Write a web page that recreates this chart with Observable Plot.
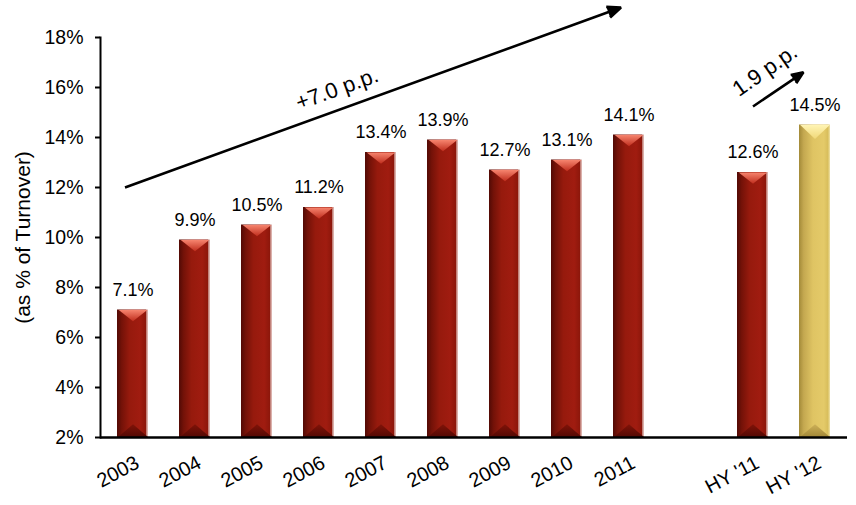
<!DOCTYPE html>
<html><head><meta charset="utf-8">
<script src="https://cdn.jsdelivr.net/npm/d3@7"></script>
<script src="https://cdn.jsdelivr.net/npm/@observablehq/plot@0.6"></script>
<style>
html,body{margin:0;padding:0;background:#fff;}
</style>
</head><body><div id="chart"></div>
<script>
// ---- data ----
const categories = ["2003","2004","2005","2006","2007","2008","2009","2010","2011","HY '11","HY '12"];
const values = [7.1, 9.9, 10.5, 11.2, 13.4, 13.9, 12.7, 13.1, 14.1, 12.6, 14.5];
const highlighted = ["HY '12"];
const xDomain = [...categories.slice(0, 9), " ", ...categories.slice(9)];
const yTicks = [2, 4, 6, 8, 10, 12, 14, 16, 18];
const yLabel = "(as % of Turnover)";

// trend annotations
const arrowFrom = ["2003", "HY '11"];
const arrowTo = ["2011", "HY '12"];
const arrowY1 = [12.0, 15.24];
const arrowY2 = [19.2, 16.92];
const annotationText = ["+7.0 p.p.", "1.9 p.p."];
const annotationX = ["2006", "HY '11"];
const annotationY = [15.94, 16.68];

// ---- tables ----
const rows = categories.map((c, i) => ({cat: c, value: values[i], hl: highlighted.includes(c)}));
const redRows = rows.filter(d => !d.hl);
const goldRows = rows.filter(d => d.hl);
const arrows = arrowFrom.map((f, i) => ({x1: f, x2: arrowTo[i], y1: arrowY1[i], y2: arrowY2[i]}));
const notes = annotationText.map((t, i) => ({text: t, x: annotationX[i], y: annotationY[i]}));
const base = yTicks[0];

function chevron(depth, up, widthFrac = 1) {
  return {
    draw(ctx, size) {
      const r = Math.sqrt(size / Math.PI);
      const w = r * widthFrac;
      ctx.moveTo(-w, 0);
      ctx.lineTo(w, 0);
      ctx.lineTo(0, (up ? -1 : 1) * depth * r);
      ctx.closePath();
    }
  };
}

const font = "'Liberation Sans', Arial, Helvetica, sans-serif";

const chart = Plot.plot({
  width: 856,
  height: 505,
  marginLeft: 100,
  marginRight: 9,
  marginTop: 37,
  marginBottom: 68,
  style: {fontFamily: font, fontSize: "19px", color: "#000", background: "white", overflow: "visible"},
  x: {domain: xDomain, paddingInner: 0.5, paddingOuter: 0.25, axis: null},
  y: {domain: [yTicks[0], yTicks[yTicks.length - 1]], axis: null},
  marks: [
    // bars
    Plot.barY(redRows, {x: "cat", y1: () => base, y2: "value", fill: "url(#redBody)"}),
    Plot.barY(goldRows, {x: "cat", y1: () => base, y2: "value", fill: "url(#goldBody)"}),
    Plot.dot(redRows, {x: "cat", y: "value", r: 15.5, symbol: chevron(0.72, false, 0.92), fill: "url(#redTop)"}),
    Plot.dot(goldRows, {x: "cat", y: "value", r: 15.5, symbol: chevron(0.9, false, 0.95), fill: "url(#goldTop)"}),
    Plot.dot(redRows, {x: "cat", y: () => base, r: 15.5, symbol: chevron(0.85, true), fill: "url(#redBottom)"}),
    Plot.dot(goldRows, {x: "cat", y: () => base, r: 15.5, symbol: chevron(0.85, true), fill: "url(#goldBottom)"}),
    // value labels
    Plot.text(rows, {x: "cat", y: "value", text: d => d.value.toFixed(1) + "%", dy: -20, fontSize: 18, fill: "#000"}),
    // axes
    Plot.ruleY([base], {stroke: "#000", strokeWidth: 2.5}),
    Plot.frame({anchor: "left", stroke: "#000", strokeWidth: 2}),
    Plot.axisY(yTicks, {tickFormat: d => d + "%", tickSize: 5, tickPadding: 12, strokeWidth: 2, fontSize: 19.5}),
    Plot.text(categories, {x: d => d, text: d => d, frameAnchor: "bottom", textAnchor: "end", lineAnchor: "top", rotate: -28, dy: 17, dx: 1, fontSize: 20, fill: "#000"}),
    Plot.text([yLabel], {text: d => d, frameAnchor: "left", textAnchor: "middle", rotate: -90, dx: -77, fontSize: 21}),
    // trend arrows
    Plot.arrow([arrows[0]], {x1: "x1", y1: "y1", x2: "x2", y2: "y2", dx: -8, stroke: "#000", fill: "#000", strokeWidth: 2.6, headLength: 8.5, headAngle: 45, strokeLinecap: "butt"}),
    Plot.arrow([arrows[1]], {x1: "x1", y1: "y1", x2: "x2", y2: "y2", insetEnd: 14, stroke: "#000", fill: "#000", strokeWidth: 2.6, headLength: 7.5, headAngle: 45, strokeLinecap: "butt"}),
    Plot.text([notes[0]], {x: "x", y: "y", text: "text", dx: 18, rotate: -20, fontSize: 22, fill: "#000"}),
    Plot.text([notes[1]], {x: "x", y: "y", text: "text", dx: 12, rotate: -35, fontSize: 22, fill: "#000"})
  ]
});

// gradient definitions
const svg = d3.select(chart.tagName.toLowerCase() === "svg" ? chart : chart.querySelector("svg"));
const defs = svg.insert("defs", ":first-child");
function grad(id, horizontal, stops) {
  const g = defs.append("linearGradient").attr("id", id)
    .attr("x1", 0).attr("y1", 0).attr("x2", horizontal ? 1 : 0).attr("y2", horizontal ? 0 : 1);
  stops.forEach(([o, c]) => g.append("stop").attr("offset", o).attr("stop-color", c));
}
grad("redBody", true, [[0, "#520a05"], [0.15, "#741208"], [0.4, "#961a0d"], [0.75, "#a01c10"], [0.92, "#8e170b"], [0.95, "#c08078"], [1, "#e8c8c4"]]);
grad("redTop", false, [[0, "#f6846e"], [1, "#c02e1e"]]);
grad("redBottom", false, [[0, "#801308"], [1, "#520904"]]);
grad("goldBody", true, [[0, "#a38a38"], [0.15, "#c4a850"], [0.45, "#dfc463"], [0.8, "#e4ca69"], [0.93, "#d8be5c"], [1, "#f0e3a8"]]);
grad("goldTop", false, [[0, "#fff4b4"], [1, "#f0d878"]]);
grad("goldBottom", false, [[0, "#cdb058"], [1, "#a08636"]]);

document.getElementById("chart").appendChild(chart);
</script></body></html>
